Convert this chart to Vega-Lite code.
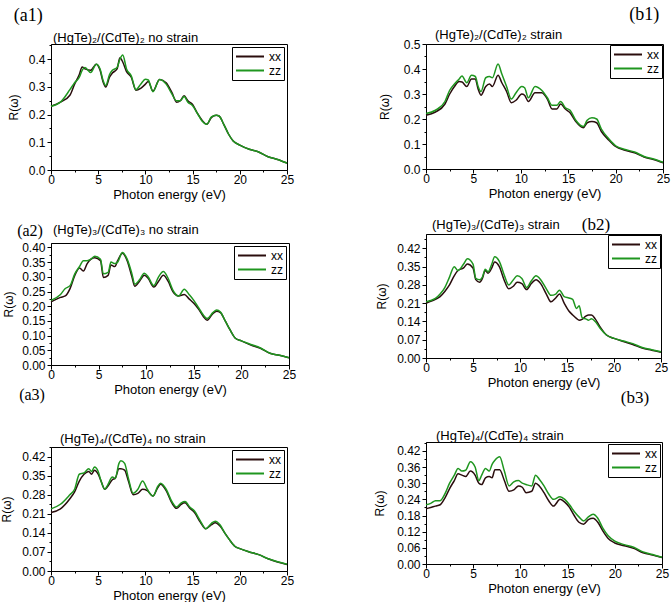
{
  "$schema": "https://vega.github.io/schema/vega-lite/v6.json",
  "padding": 0,
  "background": "white",
  "datasets": {
    "a1": [
      {"e":0,"xx":0.23,"zz":0.23},{"e":1,"xx":0.245,"zz":0.245},{"e":2,"xx":0.27,"zz":0.29},{"e":2.5,"xx":0.31,"zz":0.315},{"e":3,"xx":0.345,"zz":0.335},{"e":3.3,"xx":0.372,"zz":0.36},{"e":3.6,"xx":0.365,"zz":0.37},{"e":4.2,"xx":0.36,"zz":0.352},{"e":4.8,"xx":0.382,"zz":0.382},{"e":5.2,"xx":0.36,"zz":0.365},{"e":5.5,"xx":0.32,"zz":0.325},{"e":5.8,"xx":0.3,"zz":0.305},{"e":6.2,"xx":0.335,"zz":0.345},{"e":6.5,"xx":0.35,"zz":0.36},{"e":7.0,"xx":0.365,"zz":0.37},{"e":7.3,"xx":0.405,"zz":0.4},{"e":7.6,"xx":0.39,"zz":0.415},{"e":8.0,"xx":0.355,"zz":0.365},{"e":8.5,"xx":0.335,"zz":0.34},{"e":9.0,"xx":0.288,"zz":0.29},{"e":9.5,"xx":0.295,"zz":0.31},{"e":10.0,"xx":0.31,"zz":0.328},{"e":10.3,"xx":0.32,"zz":0.325},{"e":10.8,"xx":0.285,"zz":0.283},{"e":11.5,"xx":0.327,"zz":0.327},{"e":12.2,"xx":0.315,"zz":0.31},{"e":12.8,"xx":0.28,"zz":0.275},{"e":13.3,"xx":0.245,"zz":0.25},{"e":13.7,"xx":0.25,"zz":0.25},{"e":14.1,"xx":0.268,"zz":0.265},{"e":14.5,"xx":0.25,"zz":0.245},{"e":15.0,"xx":0.237,"zz":0.232},{"e":15.5,"xx":0.205,"zz":0.205},{"e":16.0,"xx":0.18,"zz":0.177},{"e":16.5,"xx":0.165,"zz":0.165},{"e":17.0,"xx":0.19,"zz":0.192},{"e":17.5,"xx":0.198,"zz":0.198},{"e":17.8,"xx":0.195,"zz":0.195},{"e":18.3,"xx":0.165,"zz":0.165},{"e":18.8,"xx":0.13,"zz":0.13},{"e":19.3,"xx":0.105,"zz":0.105},{"e":20,"xx":0.09,"zz":0.09},{"e":21,"xx":0.075,"zz":0.075},{"e":22,"xx":0.065,"zz":0.065},{"e":23,"xx":0.048,"zz":0.048},{"e":24,"xx":0.038,"zz":0.038},{"e":25,"xx":0.025,"zz":0.025}
    ],
    "b1": [
      {"e":0,"xx":0.215,"zz":0.222},{"e":1,"xx":0.228,"zz":0.235},{"e":2,"xx":0.26,"zz":0.27},{"e":2.5,"xx":0.3,"zz":0.315},{"e":3,"xx":0.33,"zz":0.34},{"e":3.5,"xx":0.35,"zz":0.36},{"e":3.8,"xx":0.348,"zz":0.372},{"e":4.3,"xx":0.33,"zz":0.345},{"e":4.8,"xx":0.36,"zz":0.375},{"e":5.2,"xx":0.36,"zz":0.37},{"e":5.5,"xx":0.32,"zz":0.33},{"e":5.8,"xx":0.295,"zz":0.31},{"e":6.3,"xx":0.33,"zz":0.365},{"e":6.7,"xx":0.34,"zz":0.37},{"e":7.0,"xx":0.33,"zz":0.365},{"e":7.6,"xx":0.375,"zz":0.42},{"e":8.0,"xx":0.345,"zz":0.38},{"e":8.5,"xx":0.31,"zz":0.33},{"e":9.0,"xx":0.265,"zz":0.28},{"e":9.5,"xx":0.275,"zz":0.305},{"e":10.1,"xx":0.3,"zz":0.33},{"e":10.4,"xx":0.295,"zz":0.325},{"e":10.8,"xx":0.27,"zz":0.285},{"e":11.5,"xx":0.305,"zz":0.33},{"e":12.2,"xx":0.305,"zz":0.315},{"e":12.8,"xx":0.28,"zz":0.285},{"e":13.3,"xx":0.24,"zz":0.255},{"e":13.8,"xx":0.24,"zz":0.255},{"e":14.2,"xx":0.26,"zz":0.27},{"e":14.7,"xx":0.24,"zz":0.245},{"e":15.2,"xx":0.225,"zz":0.235},{"e":15.8,"xx":0.19,"zz":0.195},{"e":16.6,"xx":0.165,"zz":0.17},{"e":17.0,"xx":0.185,"zz":0.195},{"e":17.5,"xx":0.19,"zz":0.205},{"e":18.0,"xx":0.185,"zz":0.2},{"e":18.5,"xx":0.15,"zz":0.16},{"e":19.3,"xx":0.115,"zz":0.12},{"e":20,"xx":0.09,"zz":0.093},{"e":21,"xx":0.075,"zz":0.078},{"e":22,"xx":0.065,"zz":0.068},{"e":23,"xx":0.048,"zz":0.05},{"e":24,"xx":0.038,"zz":0.04},{"e":25,"xx":0.025,"zz":0.027}
    ],
    "a2": [
      {"e":0,"xx":0.215,"zz":0.22},{"e":1,"xx":0.23,"zz":0.24},{"e":1.5,"xx":0.235,"zz":0.26},{"e":2,"xx":0.26,"zz":0.27},{"e":2.5,"xx":0.305,"zz":0.31},{"e":3.0,"xx":0.33,"zz":0.335},{"e":3.4,"xx":0.32,"zz":0.355},{"e":3.8,"xx":0.345,"zz":0.355},{"e":4.2,"xx":0.36,"zz":0.36},{"e":4.6,"xx":0.365,"zz":0.37},{"e":5.2,"xx":0.355,"zz":0.36},{"e":5.5,"xx":0.298,"zz":0.31},{"e":6.0,"xx":0.305,"zz":0.315},{"e":6.3,"xx":0.34,"zz":0.35},{"e":6.7,"xx":0.335,"zz":0.345},{"e":7.0,"xx":0.355,"zz":0.35},{"e":7.5,"xx":0.38,"zz":0.383},{"e":8.0,"xx":0.355,"zz":0.36},{"e":8.5,"xx":0.3,"zz":0.31},{"e":8.8,"xx":0.268,"zz":0.275},{"e":9.3,"xx":0.285,"zz":0.29},{"e":9.8,"xx":0.305,"zz":0.312},{"e":10.2,"xx":0.295,"zz":0.3},{"e":10.8,"xx":0.265,"zz":0.27},{"e":11.3,"xx":0.285,"zz":0.3},{"e":11.8,"xx":0.305,"zz":0.318},{"e":12.3,"xx":0.285,"zz":0.295},{"e":12.8,"xx":0.25,"zz":0.255},{"e":13.4,"xx":0.235,"zz":0.235},{"e":14.0,"xx":0.24,"zz":0.258},{"e":14.5,"xx":0.225,"zz":0.24},{"e":15.0,"xx":0.21,"zz":0.22},{"e":15.5,"xx":0.19,"zz":0.195},{"e":16.0,"xx":0.165,"zz":0.17},{"e":16.4,"xx":0.152,"zz":0.158},{"e":17.0,"xx":0.175,"zz":0.178},{"e":17.4,"xx":0.183,"zz":0.187},{"e":17.8,"xx":0.178,"zz":0.18},{"e":18.3,"xx":0.15,"zz":0.15},{"e":18.8,"xx":0.12,"zz":0.12},{"e":19.4,"xx":0.09,"zz":0.09},{"e":20,"xx":0.082,"zz":0.082},{"e":21,"xx":0.068,"zz":0.07},{"e":22,"xx":0.057,"zz":0.058},{"e":23,"xx":0.04,"zz":0.04},{"e":24,"xx":0.033,"zz":0.033},{"e":25,"xx":0.025,"zz":0.025}
    ],
    "b2": [
      {"e":0,"xx":0.21,"zz":0.215},{"e":0.5,"xx":0.217,"zz":0.22},{"e":1,"xx":0.225,"zz":0.228},{"e":1.5,"xx":0.235,"zz":0.245},{"e":2,"xx":0.255,"zz":0.27},{"e":2.5,"xx":0.28,"zz":0.31},{"e":3.0,"xx":0.315,"zz":0.35},{"e":3.4,"xx":0.335,"zz":0.335},{"e":4.0,"xx":0.345,"zz":0.36},{"e":4.4,"xx":0.36,"zz":0.38},{"e":5.0,"xx":0.345,"zz":0.36},{"e":5.3,"xx":0.3,"zz":0.305},{"e":5.7,"xx":0.29,"zz":0.3},{"e":6.0,"xx":0.305,"zz":0.31},{"e":6.3,"xx":0.335,"zz":0.34},{"e":6.6,"xx":0.325,"zz":0.33},{"e":7.0,"xx":0.345,"zz":0.36},{"e":7.3,"xx":0.368,"zz":0.388},{"e":7.8,"xx":0.35,"zz":0.37},{"e":8.3,"xx":0.3,"zz":0.32},{"e":8.8,"xx":0.265,"zz":0.28},{"e":9.3,"xx":0.275,"zz":0.3},{"e":9.7,"xx":0.29,"zz":0.315},{"e":10.2,"xx":0.285,"zz":0.305},{"e":10.7,"xx":0.262,"zz":0.27},{"e":11.2,"xx":0.285,"zz":0.295},{"e":11.7,"xx":0.3,"zz":0.315},{"e":12.2,"xx":0.285,"zz":0.3},{"e":12.8,"xx":0.245,"zz":0.265},{"e":13.3,"xx":0.215,"zz":0.24},{"e":13.8,"xx":0.23,"zz":0.245},{"e":14.2,"xx":0.245,"zz":0.26},{"e":14.7,"xx":0.21,"zz":0.235},{"e":15.2,"xx":0.18,"zz":0.23},{"e":15.6,"xx":0.165,"zz":0.225},{"e":16.0,"xx":0.152,"zz":0.19},{"e":16.3,"xx":0.145,"zz":0.2},{"e":16.6,"xx":0.148,"zz":0.155},{"e":17.0,"xx":0.16,"zz":0.15},{"e":17.3,"xx":0.165,"zz":0.145},{"e":17.6,"xx":0.165,"zz":0.15},{"e":18.0,"xx":0.15,"zz":0.14},{"e":18.5,"xx":0.12,"zz":0.115},{"e":19.2,"xx":0.088,"zz":0.088},{"e":20,"xx":0.075,"zz":0.075},{"e":21,"xx":0.063,"zz":0.065},{"e":22,"xx":0.052,"zz":0.055},{"e":23,"xx":0.038,"zz":0.04},{"e":24,"xx":0.03,"zz":0.032},{"e":25,"xx":0.022,"zz":0.024}
    ],
    "a3": [
      {"e":0,"xx":0.215,"zz":0.228},{"e":1,"xx":0.228,"zz":0.245},{"e":2,"xx":0.265,"zz":0.28},{"e":2.5,"xx":0.29,"zz":0.3},{"e":3.0,"xx":0.33,"zz":0.355},{"e":3.5,"xx":0.355,"zz":0.36},{"e":4.0,"xx":0.365,"zz":0.375},{"e":4.3,"xx":0.355,"zz":0.365},{"e":4.6,"xx":0.37,"zz":0.382},{"e":5.0,"xx":0.355,"zz":0.365},{"e":5.3,"xx":0.33,"zz":0.33},{"e":5.7,"xx":0.3,"zz":0.3},{"e":6.0,"xx":0.31,"zz":0.315},{"e":6.5,"xx":0.335,"zz":0.345},{"e":6.8,"xx":0.34,"zz":0.34},{"e":7.2,"xx":0.375,"zz":0.395},{"e":7.4,"xx":0.375,"zz":0.405},{"e":7.8,"xx":0.37,"zz":0.395},{"e":8.2,"xx":0.33,"zz":0.34},{"e":8.7,"xx":0.28,"zz":0.285},{"e":9.2,"xx":0.285,"zz":0.3},{"e":9.7,"xx":0.3,"zz":0.33},{"e":10.2,"xx":0.295,"zz":0.3},{"e":10.8,"xx":0.275,"zz":0.275},{"e":11.3,"xx":0.305,"zz":0.31},{"e":11.6,"xx":0.318,"zz":0.322},{"e":12.2,"xx":0.295,"zz":0.3},{"e":12.8,"xx":0.25,"zz":0.255},{"e":13.3,"xx":0.23,"zz":0.235},{"e":13.8,"xx":0.245,"zz":0.25},{"e":14.2,"xx":0.25,"zz":0.255},{"e":14.7,"xx":0.23,"zz":0.235},{"e":15.2,"xx":0.215,"zz":0.22},{"e":15.8,"xx":0.18,"zz":0.185},{"e":16.4,"xx":0.155,"zz":0.155},{"e":17.0,"xx":0.17,"zz":0.175},{"e":17.4,"xx":0.177,"zz":0.183},{"e":17.9,"xx":0.165,"zz":0.17},{"e":18.4,"xx":0.14,"zz":0.14},{"e":18.9,"xx":0.115,"zz":0.115},{"e":19.5,"xx":0.09,"zz":0.09},{"e":20,"xx":0.082,"zz":0.082},{"e":21,"xx":0.07,"zz":0.07},{"e":22,"xx":0.06,"zz":0.06},{"e":23,"xx":0.045,"zz":0.045},{"e":24,"xx":0.033,"zz":0.034},{"e":25,"xx":0.024,"zz":0.025}
    ],
    "b3": [
      {"e":0,"xx":0.205,"zz":0.22},{"e":0.5,"xx":0.21,"zz":0.225},{"e":1,"xx":0.215,"zz":0.235},{"e":1.5,"xx":0.22,"zz":0.235},{"e":2,"xx":0.245,"zz":0.26},{"e":2.5,"xx":0.28,"zz":0.3},{"e":3.0,"xx":0.31,"zz":0.33},{"e":3.4,"xx":0.335,"zz":0.355},{"e":3.8,"xx":0.33,"zz":0.345},{"e":4.2,"xx":0.325,"zz":0.348},{"e":4.7,"xx":0.345,"zz":0.38},{"e":5.2,"xx":0.33,"zz":0.36},{"e":5.6,"xx":0.3,"zz":0.31},{"e":5.9,"xx":0.295,"zz":0.33},{"e":6.3,"xx":0.32,"zz":0.355},{"e":6.7,"xx":0.325,"zz":0.345},{"e":7.0,"xx":0.32,"zz":0.37},{"e":7.3,"xx":0.35,"zz":0.385},{"e":7.8,"xx":0.35,"zz":0.398},{"e":8.3,"xx":0.31,"zz":0.345},{"e":8.8,"xx":0.27,"zz":0.29},{"e":9.3,"xx":0.275,"zz":0.305},{"e":9.8,"xx":0.29,"zz":0.31},{"e":10.2,"xx":0.285,"zz":0.3},{"e":10.6,"xx":0.265,"zz":0.295},{"e":11.2,"xx":0.27,"zz":0.29},{"e":11.6,"xx":0.3,"zz":0.33},{"e":12.0,"xx":0.29,"zz":0.315},{"e":12.5,"xx":0.265,"zz":0.29},{"e":13.0,"xx":0.235,"zz":0.26},{"e":13.5,"xx":0.215,"zz":0.24},{"e":14.2,"xx":0.24,"zz":0.25},{"e":14.7,"xx":0.23,"zz":0.24},{"e":15.2,"xx":0.21,"zz":0.22},{"e":15.7,"xx":0.18,"zz":0.195},{"e":16.2,"xx":0.155,"zz":0.175},{"e":16.7,"xx":0.148,"zz":0.16},{"e":17.2,"xx":0.165,"zz":0.175},{"e":17.7,"xx":0.17,"zz":0.185},{"e":18.2,"xx":0.155,"zz":0.17},{"e":18.7,"xx":0.125,"zz":0.135},{"e":19.3,"xx":0.095,"zz":0.105},{"e":20,"xx":0.078,"zz":0.085},{"e":21,"xx":0.068,"zz":0.072},{"e":22,"xx":0.058,"zz":0.062},{"e":23,"xx":0.042,"zz":0.045},{"e":24,"xx":0.033,"zz":0.035},{"e":25,"xx":0.024,"zz":0.025}
    ]
  },
  "config": {
    "font": "Liberation Sans",
    "view": {"stroke": "black", "strokeWidth": 1},
    "axis": {"grid": false, "domainColor": "black", "tickColor": "black", "labelColor": "black", "titleColor": "black", "labelFont": "Liberation Sans", "titleFont": "Liberation Sans", "labelFontSize": 12, "titleFontSize": 13, "titleFontWeight": "normal", "labelPadding": 2, "titlePadding": 3, "labelOverlap": false, "labelFlush": false},
    "axisX": {"labelPadding": 0, "titlePadding": 3},
    "axisY": {"titleFontSize": 12},
    "legend": {"orient": "top-right", "offset": 3, "strokeColor": "black", "fillColor": "white", "padding": 3, "symbolType": "stroke", "symbolSize": 784, "symbolStrokeWidth": 2, "clipHeight": 13, "labelFontSize": 12, "labelOffset": 4, "rowPadding": 1, "labelColor": "black"},
    "title": {"font": "Liberation Sans", "fontSize": 13, "fontWeight": "normal", "color": "black", "anchor": "start", "frame": "group", "offset": 0}
  },
  "spacing": 76,
  "resolve": {"scale": {"color": "independent"}, "legend": {"color": "independent"}},
  "hconcat": [
    {
      "spacing": 20,
      "resolve": {"scale": {"color": "independent"}, "legend": {"color": "independent"}},
      "vconcat": [
        {
          "title": {"text": "(a1)", "font": "Liberation Serif", "fontSize": 18, "frame": "bounds", "anchor": "start", "dx": 7, "offset": 7},
          "resolve": {"scale": {"color": "independent"}, "legend": {"color": "independent"}},
          "vconcat": [
            {
              "data": {"name": "a1"},
              "transform": [{"fold": ["xx", "zz"], "as": ["s", "r"]}],
              "title": {"text": "(HgTe)₂/(CdTe)₂ no strain", "dx": 2, "offset": -6},
              "width": 236, "height": 126,
              "mark": {"type": "line", "strokeWidth": 1.5, "interpolate": "monotone"},
              "encoding": {
                "x": {"field": "e", "type": "quantitative", "scale": {"domain": [0, 25], "nice": false}, "axis": {"title": "Photon energy (eV)", "values": [0,2.5,5,7.5,10,12.5,15,17.5,20,22.5,25], "labelExpr": "datum.value % 5 === 0 ? datum.label : ''", "tickSize": {"condition": {"test": "datum.value % 5 !== 0", "value": 2}, "value": 4}}},
                "y": {"field": "r", "type": "quantitative", "scale": {"domain": [0, 0.455], "nice": false}, "axis": {"title": "R(ω)", "format": ".1f", "values": [0,0.05,0.1,0.15,0.2,0.25,0.3,0.35,0.4,0.45], "labelExpr": "round(datum.value*100) % 10 === 0 ? datum.label : ''", "tickSize": {"condition": {"test": "round(datum.value*100) % 10 !== 0", "value": 2}, "value": 4}, "titlePadding": 8}},
                "color": {"field": "s", "type": "nominal", "scale": {"domain": ["xx", "zz"], "range": ["#2a0d0d", "#1f961f"]}, "legend": {"title": null}}
              }
            }
          ]
        },
        {
          "spacing": -11,
          "resolve": {"scale": {"color": "independent"}, "legend": {"color": "independent"}},
          "vconcat": [
            {
              "title": {"text": "(a2)", "font": "Liberation Serif", "fontSize": 16, "frame": "bounds", "anchor": "start", "dx": 15, "offset": -15},
              "resolve": {"scale": {"color": "independent"}, "legend": {"color": "independent"}},
              "vconcat": [
                {
                  "data": {"name": "a2"},
                  "transform": [{"fold": ["xx", "zz"], "as": ["s", "r"]}],
                  "title": {"text": "(HgTe)₃/(CdTe)₃ no strain", "dx": 2, "offset": 4},
                  "width": 238, "height": 122,
                  "mark": {"type": "line", "strokeWidth": 1.5, "interpolate": "monotone"},
                  "encoding": {
                    "x": {"field": "e", "type": "quantitative", "scale": {"domain": [0, 25], "nice": false}, "axis": {"title": "Photon energy (eV)", "values": [0,2.5,5,7.5,10,12.5,15,17.5,20,22.5,25], "labelExpr": "datum.value % 5 === 0 ? datum.label : ''", "tickSize": {"condition": {"test": "datum.value % 5 !== 0", "value": 2}, "value": 4}}},
                    "y": {"field": "r", "type": "quantitative", "scale": {"domain": [0, 0.415], "nice": false}, "axis": {"title": "R(ω)", "format": ".2f", "values": [0,0.025,0.05,0.075,0.1,0.125,0.15,0.175,0.2,0.225,0.25,0.275,0.3,0.325,0.35,0.375,0.4], "labelExpr": "round(datum.value*1000) % 50 === 0 ? datum.label : ''", "tickSize": {"condition": {"test": "round(datum.value*1000) % 50 !== 0", "value": 2}, "value": 4}, "titlePadding": 6}},
                    "color": {"field": "s", "type": "nominal", "scale": {"domain": ["xx", "zz"], "range": ["#2a0d0d", "#1f961f"]}, "legend": {"title": null}}
                  }
                }
              ]
            },
            {
              "title": {"text": "(a3)", "font": "Liberation Serif", "fontSize": 16, "frame": "bounds", "anchor": "start", "dx": 19, "offset": 30},
              "resolve": {"scale": {"color": "independent"}, "legend": {"color": "independent"}},
              "vconcat": [
                {
                  "data": {"name": "a3"},
                  "transform": [{"fold": ["xx", "zz"], "as": ["s", "r"]}],
                  "title": {"text": "(HgTe)₄/(CdTe)₄ no strain", "dx": 9, "offset": -5},
                  "width": 236, "height": 124,
                  "mark": {"type": "line", "strokeWidth": 1.5, "interpolate": "monotone"},
                  "encoding": {
                    "x": {"field": "e", "type": "quantitative", "scale": {"domain": [0, 25], "nice": false}, "axis": {"title": "Photon energy (eV)", "values": [0,2.5,5,7.5,10,12.5,15,17.5,20,22.5,25], "labelExpr": "datum.value % 5 === 0 ? datum.label : ''", "tickSize": {"condition": {"test": "datum.value % 5 !== 0", "value": 2}, "value": 4}}},
                    "y": {"field": "r", "type": "quantitative", "scale": {"domain": [0, 0.455], "nice": false}, "axis": {"title": "R(ω)", "format": ".2f", "values": [0,0.035,0.07,0.105,0.14,0.175,0.21,0.245,0.28,0.315,0.35,0.385,0.42,0.455], "labelExpr": "round(datum.value*1000) % 70 === 0 ? datum.label : ''", "tickSize": {"condition": {"test": "round(datum.value*1000) % 70 !== 0", "value": 2}, "value": 4}, "titlePadding": 8}},
                    "color": {"field": "s", "type": "nominal", "scale": {"domain": ["xx", "zz"], "range": ["#2a0d0d", "#1f961f"]}, "legend": {"title": null}}
                  }
                }
              ]
            }
          ]
        }
      ]
    },
    {
      "spacing": 14,
      "resolve": {"scale": {"color": "independent"}, "legend": {"color": "independent"}},
      "vconcat": [
        {
          "title": {"text": ["", "(b1)"], "lineHeight": 5, "font": "Liberation Serif", "fontSize": 18, "frame": "bounds", "anchor": "end", "dx": -11, "offset": 5},
          "resolve": {"scale": {"color": "independent"}, "legend": {"color": "independent"}},
          "vconcat": [
            {
              "data": {"name": "b1"},
              "transform": [{"fold": ["xx", "zz"], "as": ["s", "r"]}],
              "title": {"text": "(HgTe)₂/(CdTe)₂ strain", "dx": 9, "offset": -4},
              "width": 237, "height": 125,
              "mark": {"type": "line", "strokeWidth": 1.5, "interpolate": "monotone"},
              "encoding": {
                "x": {"field": "e", "type": "quantitative", "scale": {"domain": [0, 25], "nice": false}, "axis": {"title": "Photon energy (eV)", "values": [0,2.5,5,7.5,10,12.5,15,17.5,20,22.5,25], "labelExpr": "datum.value % 5 === 0 ? datum.label : ''", "tickSize": {"condition": {"test": "datum.value % 5 !== 0", "value": 2}, "value": 4}}},
                "y": {"field": "r", "type": "quantitative", "scale": {"domain": [0, 0.5], "nice": false}, "axis": {"title": "R(ω)", "format": ".1f", "values": [0,0.05,0.1,0.15,0.2,0.25,0.3,0.35,0.4,0.45,0.5], "labelExpr": "round(datum.value*100) % 10 === 0 ? datum.label : ''", "tickSize": {"condition": {"test": "round(datum.value*100) % 10 !== 0", "value": 2}, "value": 4}, "titlePadding": 12}},
                "color": {"field": "s", "type": "nominal", "scale": {"domain": ["xx", "zz"], "range": ["#2a0d0d", "#1f961f"]}, "legend": {"title": null, "offset": 1}}
              }
            }
          ]
        },
        {
          "spacing": -1,
          "resolve": {"scale": {"color": "independent"}, "legend": {"color": "independent"}},
          "vconcat": [
            {
              "title": {"text": "(b2)", "font": "Liberation Serif", "fontSize": 17, "frame": "bounds", "anchor": "end", "dx": -58, "offset": -15},
              "resolve": {"scale": {"color": "independent"}, "legend": {"color": "independent"}},
              "vconcat": [
                {
                  "data": {"name": "b2"},
                  "transform": [{"fold": ["xx", "zz"], "as": ["s", "r"]}],
                  "title": {"text": "(HgTe)₃/(CdTe)₃ strain", "dx": 6, "offset": 1},
                  "width": 235, "height": 124,
                  "mark": {"type": "line", "strokeWidth": 1.5, "interpolate": "monotone"},
                  "encoding": {
                    "x": {"field": "e", "type": "quantitative", "scale": {"domain": [0, 25], "nice": false}, "axis": {"title": "Photon energy (eV)", "values": [0,2.5,5,7.5,10,12.5,15,17.5,20,22.5,25], "labelExpr": "datum.value % 5 === 0 ? datum.label : ''", "tickSize": {"condition": {"test": "datum.value % 5 !== 0", "value": 2}, "value": 4}}},
                    "y": {"field": "r", "type": "quantitative", "scale": {"domain": [0, 0.475], "nice": false}, "axis": {"title": "R(ω)", "format": ".2f", "values": [0,0.035,0.07,0.105,0.14,0.175,0.21,0.245,0.28,0.315,0.35,0.385,0.42,0.455], "labelExpr": "round(datum.value*1000) % 70 === 0 ? datum.label : ''", "tickSize": {"condition": {"test": "round(datum.value*1000) % 70 !== 0", "value": 2}, "value": 4}, "titlePadding": 8}},
                    "color": {"field": "s", "type": "nominal", "scale": {"domain": ["xx", "zz"], "range": ["#2a0d0d", "#1f961f"]}, "legend": {"title": null, "offset": 1}}
                  }
                }
              ]
            },
            {
              "title": {"text": "(b3)", "font": "Liberation Serif", "fontSize": 17, "frame": "bounds", "anchor": "end", "dx": -20, "offset": 22},
              "resolve": {"scale": {"color": "independent"}, "legend": {"color": "independent"}},
              "vconcat": [
                {
                  "data": {"name": "b3"},
                  "transform": [{"fold": ["xx", "zz"], "as": ["s", "r"]}],
                  "title": {"text": "(HgTe)₄/(CdTe)₄ strain", "dx": 10, "offset": -6},
                  "width": 236, "height": 122,
                  "mark": {"type": "line", "strokeWidth": 1.5, "interpolate": "monotone"},
                  "encoding": {
                    "x": {"field": "e", "type": "quantitative", "scale": {"domain": [0, 25], "nice": false}, "axis": {"title": "Photon energy (eV)", "values": [0,2.5,5,7.5,10,12.5,15,17.5,20,22.5,25], "labelExpr": "datum.value % 5 === 0 ? datum.label : ''", "tickSize": {"condition": {"test": "datum.value % 5 !== 0", "value": 2}, "value": 4}}},
                    "y": {"field": "r", "type": "quantitative", "scale": {"domain": [0, 0.453], "nice": false}, "axis": {"title": "R(ω)", "format": ".2f", "values": [0,0.03,0.06,0.09,0.12,0.15,0.18,0.21,0.24,0.27,0.3,0.33,0.36,0.39,0.42,0.45], "labelExpr": "round(datum.value*100) % 6 === 0 ? datum.label : ''", "tickSize": {"condition": {"test": "round(datum.value*100) % 6 !== 0", "value": 2}, "value": 4}, "titlePadding": 10}},
                    "color": {"field": "s", "type": "nominal", "scale": {"domain": ["xx", "zz"], "range": ["#2a0d0d", "#1f961f"]}, "legend": {"title": null, "offset": 2}}
                  }
                }
              ]
            }
          ]
        }
      ]
    }
  ]
}
